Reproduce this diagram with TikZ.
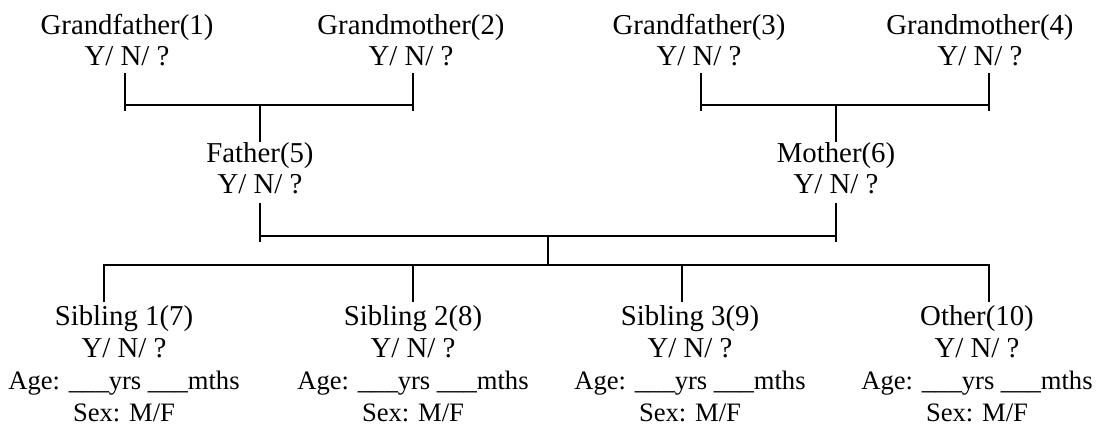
\documentclass[tikz,border=0pt]{standalone}
\usepackage{fontspec}
\setmainfont{Liberation Serif}
\begin{document}
\begin{tikzpicture}[x=1pt,y=-1pt,
  person/.style={inner sep=0pt, anchor=base, font=\fontsize{28.8}{31}\selectfont},
  sib/.style={inner sep=0pt, anchor=base, font=\fontsize{28.8}{32}\selectfont},
  link/.style={line width=2.6pt, line cap=butt}]
\useasboundingbox (0,0) rectangle (1098,425);
\newcommand{\agesex}{{\fontsize{26.6}{32}\selectfont Age: \_\_\_yrs \_\_\_mths}\\{\fontsize{26.6}{32}\selectfont Sex: M/F}}
% people
\node[person] (gf1) at (127,35) {\begin{tabular}[t]{@{}c@{}}Grandfather(1)\\Y/ N/ ?\end{tabular}};
\node[person] (gm2) at (411,35) {\begin{tabular}[t]{@{}c@{}}Grandmother(2)\\Y/ N/ ?\end{tabular}};
\node[person] (gf3) at (699,35) {\begin{tabular}[t]{@{}c@{}}Grandfather(3)\\Y/ N/ ?\end{tabular}};
\node[person] (gm4) at (980,35) {\begin{tabular}[t]{@{}c@{}}Grandmother(4)\\Y/ N/ ?\end{tabular}};
\node[person] (fa) at (260,163) {\begin{tabular}[t]{@{}c@{}}Father(5)\\Y/ N/ ?\end{tabular}};
\node[person] (mo) at (836,163) {\begin{tabular}[t]{@{}c@{}}Mother(6)\\Y/ N/ ?\end{tabular}};
\node[sib] (s1) at (124,325) {\begin{tabular}[t]{@{}c@{}}Sibling 1(7)\\Y/ N/ ?\\\agesex\end{tabular}};
\node[sib] (s2) at (413,325) {\begin{tabular}[t]{@{}c@{}}Sibling 2(8)\\Y/ N/ ?\\\agesex\end{tabular}};
\node[sib] (s3) at (690,325) {\begin{tabular}[t]{@{}c@{}}Sibling 3(9)\\Y/ N/ ?\\\agesex\end{tabular}};
\node[sib] (ot) at (977,325) {\begin{tabular}[t]{@{}c@{}}Other(10)\\Y/ N/ ?\\\agesex\end{tabular}};
% connector points
\coordinate (a1) at (125,73);  \coordinate (b1) at (125,111);
\coordinate (a2) at (413,73);  \coordinate (b2) at (413,111);
\coordinate (p1) at (125,105); \coordinate (p2) at (413,105);
\coordinate (m1) at (260,105); \coordinate (m2) at (260,142);
\coordinate (a3) at (701,73);  \coordinate (b3) at (701,111);
\coordinate (a4) at (989,73);  \coordinate (b4) at (989,111);
\coordinate (p3) at (701,105); \coordinate (p4) at (989,105);
\coordinate (m3) at (836,105); \coordinate (m4) at (836,142);
\coordinate (fa1) at (260,203); \coordinate (fa2) at (260,242);
\coordinate (mo1) at (836,203); \coordinate (mo2) at (836,242);
\coordinate (q1) at (260,236); \coordinate (q2) at (836,236);
\coordinate (c1) at (548,236); \coordinate (c2) at (548,265);
\coordinate (r1) at (104,265); \coordinate (r2) at (989,265);
\coordinate (u1) at (104,302); \coordinate (u2) at (413,302);
\coordinate (u3) at (682,302); \coordinate (u4) at (989,302);
\coordinate (v2) at (413,265); \coordinate (v3) at (682,265);
% lines
\draw[link] (a1) -- (b1);
\draw[link] (a2) -- (b2);
\draw[link] (p1) -- (p2);
\draw[link] (m1) -- (m2);
\draw[link] (a3) -- (b3);
\draw[link] (a4) -- (b4);
\draw[link] (p3) -- (p4);
\draw[link] (m3) -- (m4);
\draw[link] (fa1) -- (fa2);
\draw[link] (mo1) -- (mo2);
\draw[link] (q1) -- (q2);
\draw[link] (c1) -- (c2);
\draw[link] (u1) -- (r1) -- (r2) -- (u4);
\draw[link] (v2) -- (u2);
\draw[link] (v3) -- (u3);
\end{tikzpicture}
\end{document}
